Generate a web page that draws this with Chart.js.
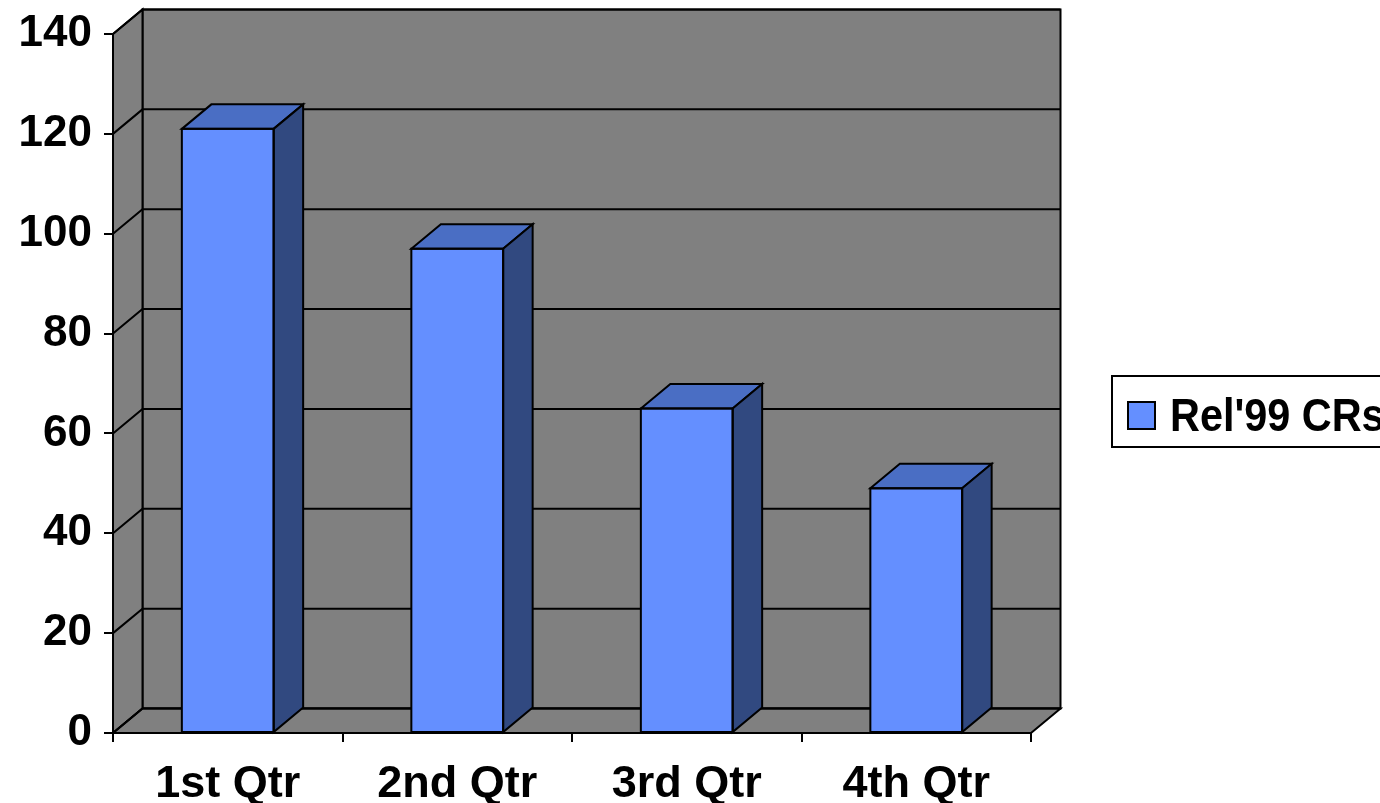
<!DOCTYPE html>
<html>
<head>
<meta charset="utf-8">
<script src="https://cdn.jsdelivr.net/npm/chart.js@4.4.1/dist/chart.umd.min.js"></script>
<style>
  html, body { margin: 0; padding: 0; background: #fff; }
  #chart { display: block; }
</style>
</head>
<body>
<canvas id="chart" width="1380" height="803"></canvas>
<script>
(function () {

  var categories = ['1st Qtr', '2nd Qtr', '3rd Qtr', '4th Qtr'];
  var seriesName = "Rel'99 CRs";
  var seriesValues = [121, 97, 65, 49];
  var yTicks = [0, 20, 40, 60, 80, 100, 120, 140];

  var font = "'Liberation Sans', Arial, sans-serif";
  var frontColor = 'rgb(100,143,255)';
  var topColor = 'rgb(74,110,196)';
  var sideColor = 'rgb(49,73,128)';
  var wallColor = '#808080';
  var depthX = 29.5, depthY = -24.5;

  var line = function (ctx, pts) {
    ctx.beginPath();
    ctx.moveTo(pts[0][0], pts[0][1]);
    for (var i = 1; i < pts.length; i++) ctx.lineTo(pts[i][0], pts[i][1]);
    ctx.stroke();
  };

  var poly = function (ctx, pts, fill) {
    ctx.beginPath();
    ctx.moveTo(pts[0][0], pts[0][1]);
    for (var i = 1; i < pts.length; i++) ctx.lineTo(pts[i][0], pts[i][1]);
    ctx.closePath();
    ctx.fillStyle = fill;
    ctx.fill();
    ctx.stroke();
  };

  // back wall, side wall, floor and their grid lines
  var walls = {
    id: 'walls',
    beforeDraw: function (chart) {
      var ctx = chart.ctx, a = chart.chartArea, ys = chart.scales.y;
      var l = a.left, r = a.right, t = a.top, b = a.bottom;
      ctx.save();
      ctx.lineWidth = 2;
      ctx.strokeStyle = '#000';
      ctx.lineJoin = 'miter';
      poly(ctx, [[l + depthX, t + depthY], [r + depthX, t + depthY], [r + depthX, b + depthY], [l + depthX, b + depthY]], wallColor);
      poly(ctx, [[l, t], [l + depthX, t + depthY], [l + depthX, b + depthY], [l, b]], wallColor);
      poly(ctx, [[l, b], [l + depthX, b + depthY], [r + depthX, b + depthY], [r, b]], wallColor);
      yTicks.forEach(function (v) {
        var y = ys.getPixelForValue(v);
        line(ctx, [[l, y], [l + depthX, y + depthY], [r + depthX, y + depthY]]);
      });
      ctx.restore();
    },
    afterDatasetsDraw: function (chart) {
      var ctx = chart.ctx;
      var meta = chart.getDatasetMeta(0);
      ctx.save();
      ctx.lineWidth = 2;
      ctx.strokeStyle = '#000';
      ctx.lineJoin = 'miter';
      meta.data.forEach(function (bar) {
        var p = bar.getProps(['x', 'y', 'base', 'width'], true);
        var x0 = p.x - p.width / 2, x1 = p.x + p.width / 2;
        poly(ctx, [[x0, p.y], [x0 + depthX, p.y + depthY], [x1 + depthX, p.y + depthY], [x1, p.y]], topColor);
        poly(ctx, [[x1, p.y], [x1 + depthX, p.y + depthY], [x1 + depthX, p.base + depthY], [x1, p.base]], sideColor);
        ctx.strokeRect(x0, p.y, p.width, p.base - p.y);
      });
      ctx.restore();
    },
    afterDraw: function (chart) {
      var ctx = chart.ctx;
      var ds = chart.data.datasets[0];
      ctx.save();
      ctx.fillStyle = '#fff';
      ctx.strokeStyle = '#000';
      ctx.lineWidth = 2;
      ctx.fillRect(1112, 376, 280, 71);
      ctx.strokeRect(1112, 376, 280, 71);
      ctx.fillStyle = ds.backgroundColor;
      ctx.fillRect(1128, 402, 27, 27);
      ctx.strokeRect(1128, 402, 27, 27);
      ctx.fillStyle = '#000';
      ctx.font = 'bold 46px ' + font;
      ctx.textBaseline = 'alphabetic';
      ctx.translate(1170, 431);
      ctx.scale(0.9, 1);
      ctx.fillText(ds.label, 0, 0);
      ctx.restore();
    }
  };

  new Chart(document.getElementById('chart').getContext('2d'), {
    type: 'bar',
    data: {
      labels: categories,
      datasets: [{
        label: seriesName,
        data: seriesValues,
        backgroundColor: frontColor,
        borderWidth: 0,
        barPercentage: 0.4,
        categoryPercentage: 1
      }]
    },
    options: {
      responsive: false,
      animation: false,
      layout: { autoPadding: false, padding: { top: 34, right: 349, left: 0, bottom: 0 } },
      plugins: {
        legend: { display: false },
        tooltip: { enabled: false }
      },
      scales: {
        x: {
          afterFit: function (scale) { scale.height = 70; },
          grid: { drawOnChartArea: false, tickLength: 9, color: '#000', lineWidth: 2 },
          border: { display: true, color: '#000', width: 2 },
          ticks: { color: '#000', padding: 16, font: { family: font, size: 45, weight: 'bold' } }
        },
        y: {
          min: 0,
          max: 140,
          afterFit: function (scale) { scale.width = 113; },
          grid: { drawOnChartArea: false, tickLength: 9, color: '#000', lineWidth: 2 },
          border: { display: true, color: '#000', width: 2 },
          ticks: { stepSize: 20, color: '#000', padding: 12, font: { family: font, size: 44, weight: 'bold', lineHeight: 0.8 } }
        }
      }
    },
    plugins: [walls]
  });

})();
</script>
</body>
</html>
